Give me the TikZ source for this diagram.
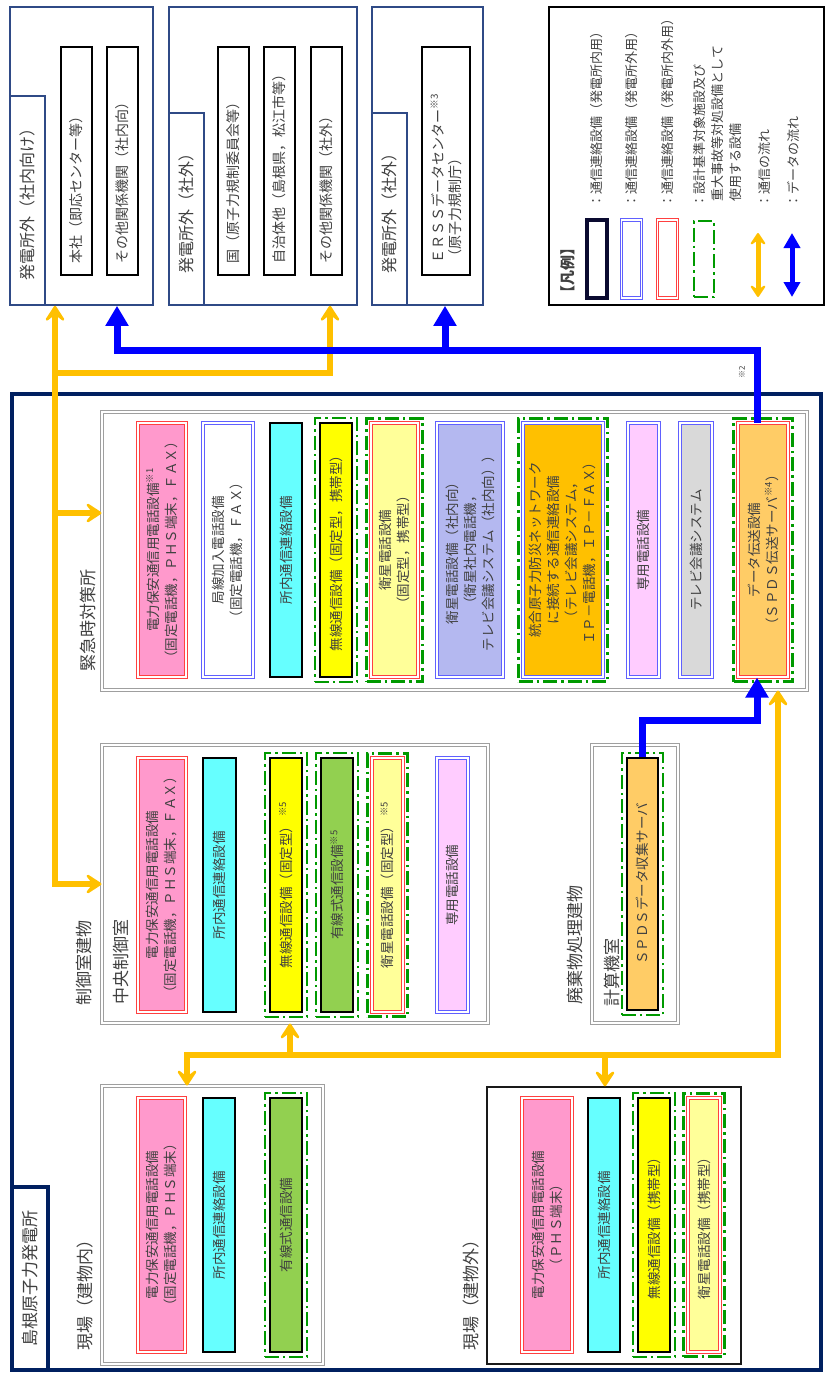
\documentclass[tikz,border=0pt]{standalone}
\usepackage{fontspec}
\setmainfont{Noto Sans CJK JP}
\usepackage{tikz}
\usetikzlibrary{arrows.meta,fit,calc}
\definecolor{navy}{HTML}{002060}
\definecolor{onavy}{HTML}{2F4A86}
\definecolor{txt}{HTML}{404040}
\definecolor{kred}{HTML}{FF4040}
\definecolor{kblue}{HTML}{6060FF}
\definecolor{kdark}{HTML}{0A0A30}
\definecolor{sagreen}{HTML}{009A00}
\definecolor{cpink}{HTML}{FF99CC}
\definecolor{ccyan}{HTML}{66FFFF}
\definecolor{cyel}{HTML}{FFFF00}
\definecolor{clyel}{HTML}{FFFF99}
\definecolor{clav}{HTML}{B4B8F0}
\definecolor{corg}{HTML}{FFC000}
\definecolor{cpur}{HTML}{FFCCFF}
\definecolor{cgray}{HTML}{D9D9D9}
\definecolor{cdat}{HTML}{FFCC66}
\definecolor{cgrn}{HTML}{92D050}
\definecolor{flowo}{HTML}{FFC000}
\definecolor{flowb}{HTML}{0000FF}
\newcommand{\kome}[1]{\textsuperscript{※#1}}
\tikzset{
  it/.style={rotate=90, minimum width=254, inner sep=0pt, align=center, text=txt, font=\fontsize{13.5}{18}\selectfont},
  kin/.style={it, draw=black, line width=2.5pt},
  kout/.style={it, draw=kblue, line width=1pt, double=white, double distance=1.2pt},
  kboth/.style={it, draw=kred, line width=1pt, double=white, double distance=1.2pt},
  sa/.style={draw=sagreen, line width=2.2pt, dash pattern=on 14pt off 4pt on 2.5pt off 4pt, inner sep=4pt},
  room/.style={draw=gray!75, line width=1pt, double=white, double distance=1.5pt, inner sep=0pt},
  lbl/.style={rotate=90, text=txt, inner sep=0pt, font=\fontsize{17}{20}\selectfont},
  lgt/.style={rotate=90, text=txt, inner sep=0pt, align=left, anchor=west, font=\fontsize{13}{18}\selectfont},
  outbox/.style={draw=onavy, line width=1.6pt, fill=white, inner sep=0pt},
  otab/.style={rotate=90, draw=onavy, line width=1.6pt, fill=white, minimum height=35, inner sep=0pt, text=txt, font=\fontsize{16}{18}\selectfont},
  obox/.style={rotate=90, draw=black, line width=1.8pt, minimum width=228, text width=204, inner xsep=12pt, inner ysep=0pt, align=left, text=txt, font=\fontsize{14}{17}\selectfont},
  cflow/.style={draw=flowo, line width=6pt, >={Stealth[length=20pt,width=26pt,inset=10pt,round]}},
  dflow/.style={draw=flowb, line width=7pt, >={Triangle[length=20pt,width=22pt]}},
}
\begin{document}
\begin{tikzpicture}[x=1pt,y=-1pt]
  \useasboundingbox (0,0) rectangle (825,1375);
  \node[outbox, minimum width=143, minimum height=298] (oA) at (81.5,156) {};
  \node[outbox, minimum width=188, minimum height=298] (oB) at (263,156) {};
  \node[outbox, minimum width=111, minimum height=298] (oC) at (427.5,156) {};
  \node[otab, minimum width=209] (tA) at (27.5,200.5) {発電所外（社内向け）};
  \node[otab, minimum width=192] (tB) at (186.5,209) {発電所外（社外）};
  \node[otab, minimum width=192] (tC) at (389.5,209) {発電所外（社外）};
  \node[obox, minimum height=31] (a1) at (76.5,161) {本社（即応センター等）};
  \node[obox, minimum height=31] (a2) at (122.5,161) {その他関係機関（社内向）};
  \node[obox, minimum height=31] (b1) at (233.5,161) {国（原子力規制委員会等）};
  \node[obox, minimum height=31] (b2) at (279.5,161) {自治体他（島根県，松江市等）};
  \node[obox, minimum height=31] (b3) at (326.5,161) {その他関係機関（社外）};
  \node[obox, minimum height=48] (erss) at (446,161) {ＥＲＳＳデータセンター\kome{3}\\（原子力規制庁）};

  \node[draw=black, line width=1.6pt, minimum width=275, minimum height=298, inner sep=0pt] (lg) at (686.5,156) {};
  \node[lbl, font=\fontsize{15}{18}\selectfont\bfseries] (lgtitle) at (568,270) {【凡例】};
  \node[draw=kdark, line width=3.5pt, minimum width=20, minimum height=78, inner sep=0pt] (lk1) at (597,259) {};
  \node[draw=kblue, line width=1pt, double=white, double distance=1.2pt, minimum width=20, minimum height=78, inner sep=0pt] (lk2) at (631.5,259) {};
  \node[draw=kred, line width=1pt, double=white, double distance=1.2pt, minimum width=20, minimum height=78, inner sep=0pt] (lk3) at (667.5,259) {};
  \node[sa, minimum width=20, minimum height=76, inner sep=0pt] (lk4) at (704,259) {};
  \node[lgt] (lt1) at (597,208) {：通信連絡設備（発電所内用）};
  \node[lgt] (lt2) at (632,208) {：通信連絡設備（発電所外用）};
  \node[lgt] (lt3) at (668,208) {：通信連絡設備（発電所内外用）};
  \node[lgt] (lt4) at (718,208) {：設計基準対象施設及び\\\hspace{.5em}重大事故等対処設備として\\\hspace{.5em}使用する設備};
  \node[lgt] (lt5) at (765,208) {：通信の流れ};
  \node[lgt] (lt6) at (793,208) {：データの流れ};
  \coordinate (la1) at (758,233);
  \coordinate (la2) at (758,297);
  \coordinate (lb1) at (792,233);
  \coordinate (lb2) at (792,297);
  \draw[cflow, line width=5pt, >={Stealth[length=15pt,width=20pt,inset=7pt,round]}, <->] (la1) -- (la2);
  \draw[dflow, line width=5pt, >={Triangle[length=15pt,width=16pt]}, <->] (lb1) -- (lb2);

  \node[draw=navy, line width=4pt, minimum width=809, minimum height=976, inner sep=0pt] (plant) at (416.5,882) {};
  \node[rotate=90, draw=navy, line width=4pt, fill=white, minimum width=183, minimum height=36, inner sep=0pt, text=txt, font=\fontsize{17}{20}\selectfont] (plantl) at (30,1278.5) {島根原子力発電所};
  \node[rotate=90, text=txt, inner sep=0pt, font=\fontsize{8}{9}\selectfont] (n2) at (742,372) {※2};

  \node[room, minimum width=705, minimum height=278] (eoc) at (454.5,551) {};
  \node[room, minimum width=386, minimum height=278] (ccr) at (295,884) {};
  \node[room, minimum width=86, minimum height=278] (waste) at (635,884) {};
  \node[room, minimum width=221, minimum height=278] (fin) at (212.5,1225) {};
  \node[draw=gray!20!black, line width=1.3pt, minimum width=254, minimum height=277, inner sep=0pt] (fout) at (614,1225.5) {};
  \node[lbl] (eocl) at (88,620) {緊急時対策所};
  \node[lbl] (ccrb) at (84,963) {制御室建物};
  \node[lbl] (ccrl) at (121,962) {中央制御室};
  \node[lbl] (wasteb) at (575,945) {廃棄物処理建物};
  \node[lbl] (wastel) at (612,972) {計算機室};
  \node[lbl] (finl) at (85,1291) {現場（建物内）};
  \node[lbl] (foutl) at (471,1291) {現場（建物外）};

  \node[kboth, fill=cpink, minimum height=48] (e1) at (162,550) {電力保安通信用電話設備\kome{1}\\（固定電話機，ＰＨＳ端末，ＦＡＸ）};
  \node[kout, fill=white, minimum height=50] (e2) at (228,550) {局線加入電話設備\\（固定電話機，ＦＡＸ）};
  \node[kin, fill=ccyan, minimum height=32] (e3) at (286,550) {所内通信連絡設備};
  \node[kin, fill=cyel, minimum height=32] (e4) at (336,550) {無線通信設備（固定型，携帯型）};
  \node[kboth, fill=clyel, minimum height=47] (e5) at (394.5,550) {衛星電話設備\\（固定型，携帯型）};
  \node[kout, fill=clav, minimum height=66] (e6) at (470,550) {衛星電話設備（社内向）\\（衛星社内電話機，\\テレビ会議システム（社内向））};
  \node[kout, fill=corg, minimum height=80] (e7) at (563,550) {統合原子力防災ネットワーク\\に接続する通信連絡設備\\（テレビ会議システム，\\ＩＰ－電話機，ＩＰ－ＦＡＸ）};
  \node[kout, fill=cpur, minimum height=31] (e8) at (643.5,550) {専用電話設備};
  \node[kout, fill=cgray, minimum height=32] (e9) at (696,550) {テレビ会議システム};
  \node[kboth, fill=cdat, minimum height=50] (data) at (763,550) {データ伝送設備\\（ＳＰＤＳ伝送サーバ\kome{4}）};

  \node[kboth, fill=cpink, minimum height=48] (c1) at (162,885) {電力保安通信用電話設備\\（固定電話機，ＰＨＳ端末，ＦＡＸ）};
  \node[kin, fill=ccyan, minimum height=33] (c2) at (219.5,885) {所内通信連絡設備};
  \node[kin, fill=cyel, minimum height=32] (c3) at (286,885) {無線通信設備（固定型）\ \kome{5}};
  \node[kin, fill=cgrn, minimum height=32] (c4) at (337,885) {有線式通信設備\kome{5}};
  \node[kboth, fill=clyel, minimum height=31] (c5) at (387.5,885) {衛星電話設備（固定型）\ \kome{5}};
  \node[kout, fill=cpur, minimum height=31] (c6) at (452.5,885) {専用電話設備};
  \node[kin, fill=cdat, minimum height=31, minimum width=252] (spds) at (642.5,884) {ＳＰＤＳデータ収集サーバ};

  \node[kboth, fill=cpink, minimum height=47] (f1) at (161.5,1225) {電力保安通信用電話設備\\（固定電話機，ＰＨＳ端末）};
  \node[kin, fill=ccyan, minimum height=32] (f2) at (219,1225) {所内通信連絡設備};
  \node[kin, fill=cgrn, minimum height=32] (f3) at (286,1225) {有線式通信設備};
  \node[kboth, fill=cpink, minimum height=50] (g1) at (547,1225) {電力保安通信用電話設備\\（ＰＨＳ端末）};
  \node[kin, fill=ccyan, minimum height=32] (g2) at (604,1225) {所内通信連絡設備};
  \node[kin, fill=cyel, minimum height=32] (g3) at (654,1225) {無線通信設備（携帯型）};
  \node[kboth, fill=clyel, minimum height=32] (g4) at (704,1225) {衛星電話設備（携帯型）};

  \foreach \n in {e4,e5,e7,data,c3,c4,c5,spds,f3,g3,g4} \node[sa, fit=(\n)] (sa-\n) {};

  \coordinate (cj) at (55,373);
  \draw[cflow, <->] (oA.south -| cj) -- (cj |- ccr.west) -- (ccr.west);
  \draw[cflow, ->] (cj |- 0,513) -- (eoc.west |- 0,513);
  \draw[cflow, ->] (cj) -| (oB.south -| 330,0);
  \coordinate (cb) at (778,1055);
  \draw[cflow, <->] (eoc.south -| cb) -- (cb) -| (fin.north -| 187,0);
  \draw[cflow, ->] (cb -| 290,0) -- (ccr.south -| 290,0);
  \draw[cflow, ->] (cb -| 605,0) -- (fout.north -| 605,0);
  \coordinate (db) at (757,350);
  \draw[dflow, ->] (data.east -| db) -- (db) -| (oA.south -| 117,0);
  \draw[dflow, ->] (db -| 445,0) -- (oC.south -| 445,0);
  \coordinate (sb) at (757,720);
  \draw[dflow, ->] (spds.east) |- (sb) -- (data.west -| sb);
\end{tikzpicture}
\end{document}
